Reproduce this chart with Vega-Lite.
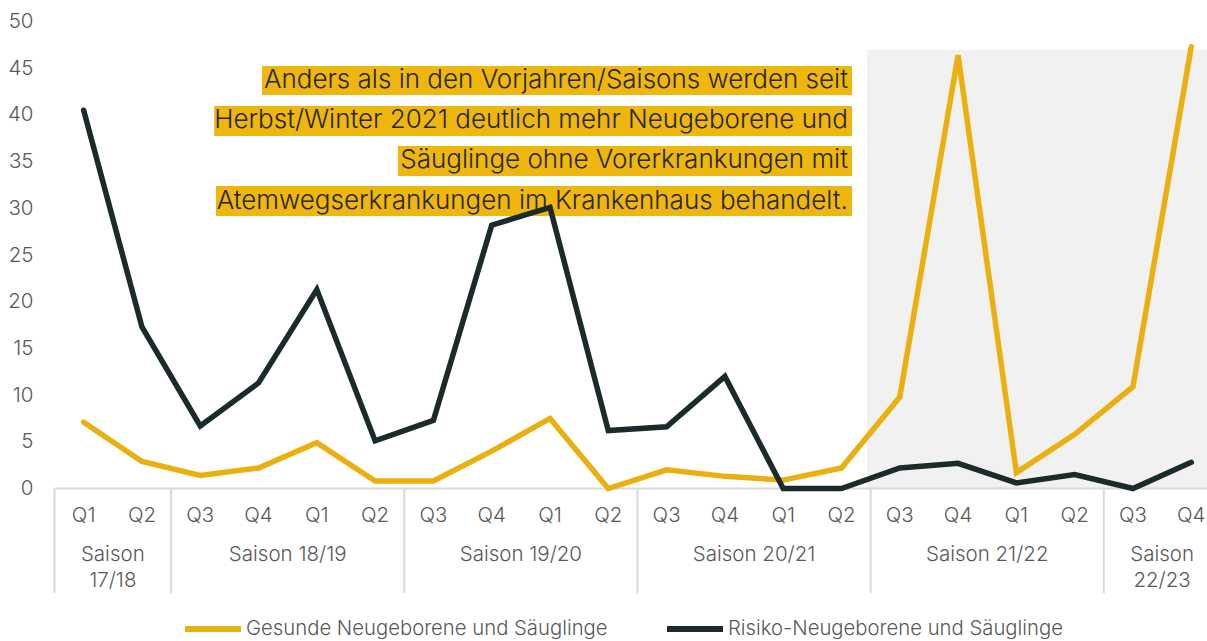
{
  "$schema": "https://vega.github.io/schema/vega-lite/v6.json",
  "width": 1152.5,
  "height": 467,
  "autosize": {"type": "none"},
  "padding": {"left": 54.5, "top": 21.5, "right": 0, "bottom": 152.5},
  "background": "white",
  "config": {
    "view": {"stroke": null},
    "font": "Inter",
    "text": {"font": "Inter"}
  },
  "datasets": {
    "series": [
      {"i": 0.5, "s": "Gesunde Neugeborene und Säuglinge", "v": 7.1},
      {"i": 1.5, "s": "Gesunde Neugeborene und Säuglinge", "v": 2.9},
      {"i": 2.5, "s": "Gesunde Neugeborene und Säuglinge", "v": 1.4},
      {"i": 3.5, "s": "Gesunde Neugeborene und Säuglinge", "v": 2.2},
      {"i": 4.5, "s": "Gesunde Neugeborene und Säuglinge", "v": 4.9},
      {"i": 5.5, "s": "Gesunde Neugeborene und Säuglinge", "v": 0.8},
      {"i": 6.5, "s": "Gesunde Neugeborene und Säuglinge", "v": 0.8},
      {"i": 7.5, "s": "Gesunde Neugeborene und Säuglinge", "v": 4.0},
      {"i": 8.5, "s": "Gesunde Neugeborene und Säuglinge", "v": 7.5},
      {"i": 9.5, "s": "Gesunde Neugeborene und Säuglinge", "v": 0.0},
      {"i": 10.5, "s": "Gesunde Neugeborene und Säuglinge", "v": 2.0},
      {"i": 11.5, "s": "Gesunde Neugeborene und Säuglinge", "v": 1.3},
      {"i": 12.5, "s": "Gesunde Neugeborene und Säuglinge", "v": 0.9},
      {"i": 13.5, "s": "Gesunde Neugeborene und Säuglinge", "v": 2.2},
      {"i": 14.5, "s": "Gesunde Neugeborene und Säuglinge", "v": 9.8},
      {"i": 15.5, "s": "Gesunde Neugeborene und Säuglinge", "v": 46.4},
      {"i": 16.5, "s": "Gesunde Neugeborene und Säuglinge", "v": 1.7},
      {"i": 17.5, "s": "Gesunde Neugeborene und Säuglinge", "v": 5.8},
      {"i": 18.5, "s": "Gesunde Neugeborene und Säuglinge", "v": 10.9},
      {"i": 19.5, "s": "Gesunde Neugeborene und Säuglinge", "v": 47.3},
      {"i": 0.5, "s": "Risiko-Neugeborene und Säuglinge", "v": 40.5},
      {"i": 1.5, "s": "Risiko-Neugeborene und Säuglinge", "v": 17.3},
      {"i": 2.5, "s": "Risiko-Neugeborene und Säuglinge", "v": 6.7},
      {"i": 3.5, "s": "Risiko-Neugeborene und Säuglinge", "v": 11.3},
      {"i": 4.5, "s": "Risiko-Neugeborene und Säuglinge", "v": 21.3},
      {"i": 5.5, "s": "Risiko-Neugeborene und Säuglinge", "v": 5.1},
      {"i": 6.5, "s": "Risiko-Neugeborene und Säuglinge", "v": 7.3},
      {"i": 7.5, "s": "Risiko-Neugeborene und Säuglinge", "v": 28.2},
      {"i": 8.5, "s": "Risiko-Neugeborene und Säuglinge", "v": 30.1},
      {"i": 9.5, "s": "Risiko-Neugeborene und Säuglinge", "v": 6.2},
      {"i": 10.5, "s": "Risiko-Neugeborene und Säuglinge", "v": 6.6},
      {"i": 11.5, "s": "Risiko-Neugeborene und Säuglinge", "v": 12.0},
      {"i": 12.5, "s": "Risiko-Neugeborene und Säuglinge", "v": 0.0},
      {"i": 13.5, "s": "Risiko-Neugeborene und Säuglinge", "v": 0.0},
      {"i": 14.5, "s": "Risiko-Neugeborene und Säuglinge", "v": 2.2},
      {"i": 15.5, "s": "Risiko-Neugeborene und Säuglinge", "v": 2.7},
      {"i": 16.5, "s": "Risiko-Neugeborene und Säuglinge", "v": 0.6},
      {"i": 17.5, "s": "Risiko-Neugeborene und Säuglinge", "v": 1.5},
      {"i": 18.5, "s": "Risiko-Neugeborene und Säuglinge", "v": 0.0},
      {"i": 19.5, "s": "Risiko-Neugeborene und Säuglinge", "v": 2.8}
    ],
    "quarters": [
      {"i": 0.5, "q": "Q1"}, {"i": 1.5, "q": "Q2"}, {"i": 2.5, "q": "Q3"}, {"i": 3.5, "q": "Q4"},
      {"i": 4.5, "q": "Q1"}, {"i": 5.5, "q": "Q2"}, {"i": 6.5, "q": "Q3"}, {"i": 7.5, "q": "Q4"},
      {"i": 8.5, "q": "Q1"}, {"i": 9.5, "q": "Q2"}, {"i": 10.5, "q": "Q3"}, {"i": 11.5, "q": "Q4"},
      {"i": 12.5, "q": "Q1"}, {"i": 13.5, "q": "Q2"}, {"i": 14.5, "q": "Q3"}, {"i": 15.5, "q": "Q4"},
      {"i": 16.5, "q": "Q1"}, {"i": 17.5, "q": "Q2"}, {"i": 18.5, "q": "Q3"}, {"i": 19.5, "q": "Q4"}
    ],
    "seasons": [
      {"i": 1, "label": "Saison\n17/18"},
      {"i": 4, "label": "Saison 18/19"},
      {"i": 8, "label": "Saison 19/20"},
      {"i": 12, "label": "Saison 20/21"},
      {"i": 16, "label": "Saison 21/22"},
      {"i": 19, "label": "Saison\n22/23"}
    ],
    "separators": [
      {"i": 0}, {"i": 2}, {"i": 6}, {"i": 10}, {"i": 14}, {"i": 18}
    ],
    "note": [
      {"text": "Anders als in den Vorjahren/Saisons werden seit", "left": 3.56, "right": 13.68, "yc": 43.73, "top": 45.24, "bottom": 42.13},
      {"text": "Herbst/Winter 2021 deutlich mehr Neugeborene und", "left": 2.74, "right": 13.68, "yc": 39.45, "top": 40.95, "bottom": 37.74},
      {"text": "Säuglinge ohne Vorerkrankungen mit", "left": 5.89, "right": 13.68, "yc": 35.17, "top": 36.67, "bottom": 33.46},
      {"text": "Atemwegserkrankungen im Krankenhaus behandelt.", "left": 2.77, "right": 13.68, "yc": 30.78, "top": 32.39, "bottom": 29.18}
    ]
  },
  "layer": [
    {
      "data": {"values": [{"a": 13.94, "b": 19.77, "lo": 0, "hi": 46.95}]},
      "mark": {"type": "rect", "color": "#F1F1F1"},
      "encoding": {
        "x": {"field": "a", "type": "quantitative", "scale": {"domain": [0, 19.77], "nice": false, "zero": false}, "axis": null},
        "x2": {"field": "b"},
        "y": {
          "field": "lo", "type": "quantitative", "scale": {"domain": [0, 50], "nice": false},
          "axis": {
            "values": [0, 5, 10, 15, 20, 25, 30, 35, 40, 45, 50],
            "title": null, "domain": false, "ticks": false, "grid": false,
            "labelFontSize": 20.5, "labelFont": "Inter", "labelFontWeight": 300,
            "labelColor": "#595959", "labelPadding": 21.5
          }
        },
        "y2": {"field": "hi"}
      }
    },
    {
      "data": {"values": [{"a": 0, "b": 19.77, "y": 0}]},
      "mark": {"type": "rule", "color": "#D9D9D9", "strokeWidth": 2},
      "encoding": {
        "x": {"field": "a", "type": "quantitative"},
        "x2": {"field": "b"},
        "y": {"field": "y", "type": "quantitative"}
      }
    },
    {
      "data": {"name": "separators"},
      "mark": {"type": "rule", "color": "#D9D9D9", "strokeWidth": 2},
      "encoding": {
        "x": {"field": "i", "type": "quantitative"},
        "y": {"datum": 0, "type": "quantitative"},
        "y2": {"datum": -11.2}
      }
    },
    {
      "data": {"name": "quarters"},
      "mark": {"type": "text", "fontSize": 20.5, "fontWeight": 300, "color": "#595959", "align": "center", "baseline": "alphabetic"},
      "encoding": {
        "x": {"field": "i", "type": "quantitative"},
        "y": {"datum": -3.64, "type": "quantitative"},
        "text": {"field": "q"}
      }
    },
    {
      "data": {"name": "seasons"},
      "mark": {"type": "text", "fontSize": 20.5, "fontWeight": 300, "color": "#595959", "align": "center", "baseline": "alphabetic", "lineBreak": "\n", "lineHeight": 26},
      "encoding": {
        "x": {"field": "i", "type": "quantitative"},
        "y": {"datum": -7.76, "type": "quantitative"},
        "text": {"field": "label"}
      }
    },
    {
      "data": {"name": "note"},
      "mark": {"type": "rect", "color": "#EFB60D"},
      "encoding": {
        "x": {"field": "left", "type": "quantitative"},
        "x2": {"field": "right"},
        "y": {"field": "bottom", "type": "quantitative"},
        "y2": {"field": "top"}
      }
    },
    {
      "data": {"name": "note"},
      "mark": {"type": "text", "fontSize": 26, "fontWeight": 300, "color": "#262626", "align": "right", "baseline": "middle"},
      "encoding": {
        "x": {"datum": 13.61, "type": "quantitative"},
        "y": {"field": "yc", "type": "quantitative"},
        "text": {"field": "text"}
      }
    },
    {
      "data": {"name": "series"},
      "mark": {"type": "line", "strokeWidth": 5.5, "strokeCap": "round", "strokeJoin": "miter"},
      "encoding": {
        "x": {"field": "i", "type": "quantitative"},
        "y": {"field": "v", "type": "quantitative"},
        "color": {
          "field": "s", "type": "nominal",
          "scale": {"domain": ["Gesunde Neugeborene und Säuglinge", "Risiko-Neugeborene und Säuglinge"], "range": ["#EAB010", "#1B2A2A"]},
          "legend": {
            "title": null, "orient": "none", "direction": "horizontal",
            "legendX": 127.5, "legendY": 576.5, "padding": 0,
            "symbolType": "stroke", "symbolSize": 3136, "symbolStrokeWidth": 6,
            "labelFontSize": 20.3, "labelFont": "Inter", "labelFontWeight": 300,
            "labelColor": "#595959", "labelOffset": 2, "columnPadding": 47, "labelLimit": 500
          }
        }
      }
    }
  ]
}
